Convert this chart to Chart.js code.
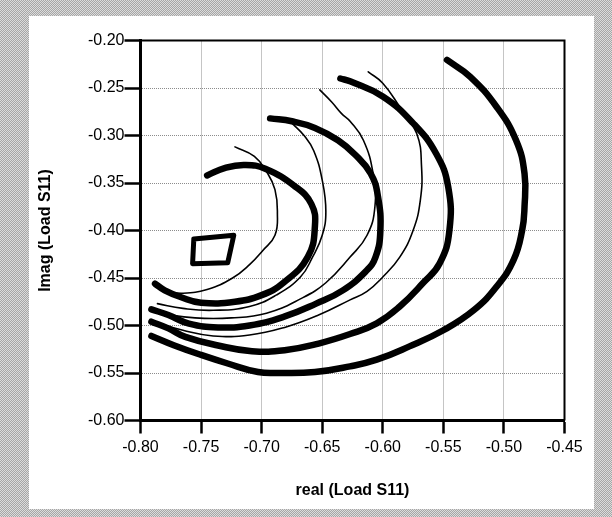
<!DOCTYPE html>
<html>
<head>
<meta charset="utf-8">
<script src="https://cdn.jsdelivr.net/npm/chart.js@4"></script>
<style>
  html, body { margin: 0; padding: 0; }
  body {
    width: 612px; height: 517px; position: relative; overflow: hidden;
    background: repeating-conic-gradient(#a6a6a6 0 25%, #dcdcdc 0 50%) 0 0 / 2px 2px;
  }
  .panel { position: absolute; left: 29px; top: 16px; width: 565px; height: 493px; background: #fff; }
  .wrap { position: absolute; left: 0; top: 0; width: 612px; height: 517px; }
</style>
</head>
<body>
<div class="panel"></div>
<div class="wrap"><canvas id="chart" width="612" height="517"></canvas></div>
<script>
// axis ticks
const xTicks = [-0.80, -0.75, -0.70, -0.65, -0.60, -0.55, -0.50, -0.45];
const yTicks = [-0.60, -0.55, -0.50, -0.45, -0.40, -0.35, -0.30, -0.25, -0.20];

// contours (real, imag)
const contourAx = [-0.745, -0.730, -0.714, -0.697, -0.672, -0.659, -0.656, -0.662, -0.682, -0.700, -0.722, -0.750, -0.767, -0.780, -0.788];
const contourAy = [-0.342, -0.334, -0.331, -0.335, -0.354, -0.372, -0.395, -0.428, -0.455, -0.468, -0.475, -0.476, -0.470, -0.463, -0.456];

const contourBx = [-0.722, -0.706, -0.696, -0.689, -0.687, -0.689, -0.699, -0.710, -0.724, -0.745, -0.765, -0.780];
const contourBy = [-0.312, -0.322, -0.338, -0.357, -0.382, -0.405, -0.421, -0.436, -0.450, -0.462, -0.466, -0.464];

const contourCx = [-0.693, -0.675, -0.656, -0.637, -0.623, -0.610, -0.604, -0.602, -0.606, -0.614, -0.633, -0.655, -0.682, -0.710, -0.736, -0.760, -0.777, -0.791];
const contourCy = [-0.282, -0.285, -0.292, -0.305, -0.320, -0.340, -0.364, -0.400, -0.428, -0.443, -0.463, -0.477, -0.491, -0.500, -0.502, -0.498, -0.489, -0.483];

const contourB2x = [-0.675, -0.665, -0.657, -0.650, -0.647, -0.650, -0.658, -0.668, -0.688, -0.710, -0.740, -0.765, -0.786];
const contourB2y = [-0.287, -0.300, -0.316, -0.347, -0.380, -0.405, -0.428, -0.449, -0.468, -0.480, -0.484, -0.482, -0.477];

const contourC2x = [-0.652, -0.642, -0.634, -0.627, -0.616, -0.608, -0.6065, -0.613, -0.627, -0.647, -0.668, -0.696, -0.725, -0.755, -0.786];
const contourC2y = [-0.252, -0.265, -0.277, -0.285, -0.305, -0.340, -0.375, -0.405, -0.428, -0.455, -0.472, -0.487, -0.492, -0.492, -0.487];

const contourDx = [-0.635, -0.627, -0.600, -0.575, -0.556, -0.546, -0.545, -0.553, -0.567, -0.586, -0.605, -0.627, -0.653, -0.681, -0.708, -0.736, -0.763, -0.777, -0.791];
const contourDy = [-0.240, -0.243, -0.259, -0.287, -0.319, -0.354, -0.400, -0.4345, -0.4556, -0.480, -0.4977, -0.509, -0.519, -0.526, -0.527, -0.521, -0.512, -0.503, -0.496];

const contourD2x = [-0.612, -0.600, -0.586, -0.572, -0.568, -0.569, -0.575, -0.586, -0.600, -0.613, -0.627, -0.653, -0.681, -0.710, -0.740, -0.765, -0.787];
const contourD2y = [-0.233, -0.245, -0.270, -0.298, -0.333, -0.368, -0.400, -0.428, -0.449, -0.464, -0.473, -0.489, -0.502, -0.510, -0.511, -0.505, -0.497];

const contourEx = [-0.547, -0.528, -0.506, -0.490, -0.483, -0.483, -0.485, -0.492, -0.506, -0.525, -0.550, -0.578, -0.605, -0.627, -0.656, -0.686, -0.703, -0.728, -0.750, -0.772, -0.791];
const contourEy = [-0.2205, -0.238, -0.270, -0.305, -0.340, -0.375, -0.400, -0.431, -0.459, -0.484, -0.505, -0.522, -0.536, -0.543, -0.549, -0.550, -0.549, -0.540, -0.531, -0.521, -0.511];

const diamondX = [-0.756, -0.723, -0.728, -0.757, -0.756];
const diamondY = [-0.409, -0.405, -0.434, -0.435, -0.409];

const zip = (xs, ys) => xs.map((x, i) => ({ x: x, y: ys[i] }));

const line = (xs, ys, width, tension) => ({
    data: zip(xs, ys),
    showLine: true,
    borderColor: '#000',
    borderWidth: width,
    borderCapStyle: 'round',
    borderJoinStyle: 'round',
    pointRadius: 0,
    tension: tension
});

const THICK = 6.5;
const THIN = 1.6;
const SMOOTH = 0.45;

// black frame on top / right of the plot
const frame = {
    id: 'frame',
    afterDatasetsDraw(chart) {
        const { ctx, chartArea: a } = chart;
        ctx.save();
        ctx.strokeStyle = '#000';
        ctx.lineWidth = 2;
        ctx.beginPath();
        ctx.moveTo(a.left, a.top);
        ctx.lineTo(a.right, a.top);
        ctx.lineTo(a.right, a.bottom);
        ctx.stroke();
        ctx.restore();
    }
};

const font = { family: "'Liberation Sans', Arial, sans-serif", size: 16 };

new Chart(document.getElementById('chart').getContext('2d'), {
    type: 'scatter',
    data: {
        datasets: [
            line(contourEx, contourEy, THICK, SMOOTH),
            line(contourDx, contourDy, THICK, SMOOTH),
            line(contourD2x, contourD2y, THIN, SMOOTH),
            line(contourCx, contourCy, THICK, SMOOTH),
            line(contourC2x, contourC2y, THIN, SMOOTH),
            line(contourB2x, contourB2y, THIN, SMOOTH),
            line(contourAx, contourAy, THICK, SMOOTH),
            line(contourBx, contourBy, THIN, SMOOTH),
            line(diamondX, diamondY, 5, 0)
        ]
    },
    options: {
        responsive: false,
        animation: false,
        layout: { padding: { left: 0, top: 40.5, right: 47.5, bottom: 0 } },
        plugins: { legend: { display: false }, tooltip: { enabled: false } },
        scales: {
            x: {
                type: 'linear',
                min: -0.80,
                max: -0.45,
                afterBuildTicks: s => { s.ticks = xTicks.map(v => ({ value: v })); },
                afterFit: s => { s.height = 96.5; },
                ticks: {
                    color: '#000',
                    font: font,
                    padding: 4,
                    maxRotation: 0,
                    callback: v => v.toFixed(2)
                },
                grid: {
                    color: '#8c8c8c',
                    lineWidth: 1,
                    tickLength: 13,
                    tickColor: '#000',
                    tickWidth: 2.5
                },
                border: { color: '#000', width: 3, dash: [1, 1] },
                title: {
                    display: true,
                    text: 'real (Load S11)',
                    color: '#000',
                    font: { family: font.family, size: 16, weight: 'bold' },
                    padding: { top: 0, bottom: 17 }
                }
            },
            y: {
                type: 'linear',
                min: -0.60,
                max: -0.20,
                afterBuildTicks: s => { s.ticks = yTicks.map(v => ({ value: v })); },
                afterFit: s => { s.width = 140.5; },
                ticks: {
                    color: '#000',
                    font: font,
                    padding: 0,
                    callback: v => v.toFixed(2)
                },
                grid: {
                    color: '#8c8c8c',
                    lineWidth: 1,
                    tickLength: 16,
                    tickColor: '#000',
                    tickWidth: 2.5
                },
                border: { color: '#000', width: 3, dash: [1, 1] },
                title: {
                    display: true,
                    text: 'Imag (Load S11)',
                    color: '#000',
                    font: { family: font.family, size: 16, weight: 'bold' },
                    padding: { top: 36, bottom: 0 }
                }
            }
        }
    },
    plugins: [frame]
});
</script>
</body>
</html>
